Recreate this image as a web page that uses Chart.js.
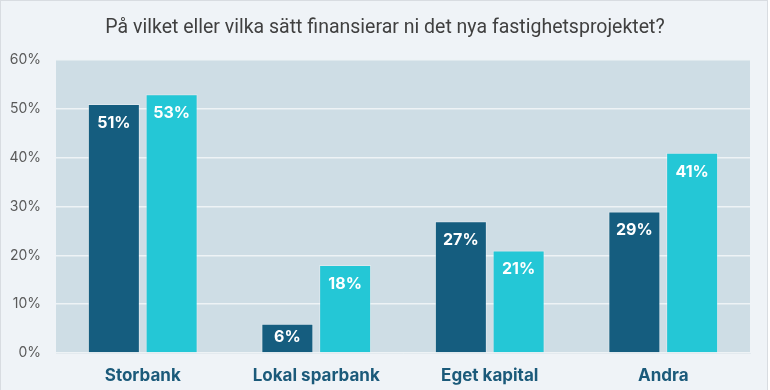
<!DOCTYPE html>
<html lang="sv">
<head>
<meta charset="utf-8">
<script src="https://cdn.jsdelivr.net/npm/chart.js@4.4.1/dist/chart.umd.min.js"></script>
<style>
  html, body { margin: 0; padding: 0; background: #ffffff; }
  #ram {
    position: relative;
    width: 766px;
    height: 392px;
    background: #eff3f7;
    border: 1px solid #d8dce1;
    overflow: hidden;
  }
  #graf { position: absolute; left: -1px; top: -1px; }
</style>
</head>
<body>
<div id="ram"><canvas id="graf" width="770" height="390"></canvas></div>
<script>
const titel = 'På vilket eller vilka sätt finansierar ni det nya fastighetsprojektet?';
const kategorier = ['Storbank', 'Lokal sparbank', 'Eget kapital', 'Andra'];
const serie1 = [51, 6, 27, 29];
const serie2 = [53, 18, 21, 41];
const yTicks = [0, 10, 20, 30, 40, 50, 60];

// bakgrund för ritytan
const ytaBakgrund = {
  id: 'ytaBakgrund',
  beforeDraw(chart) {
    const { ctx, chartArea: a } = chart;
    ctx.save();
    ctx.fillStyle = '#cedde5';
    ctx.fillRect(a.left, a.top, a.right - a.left, a.bottom - a.top);
    ctx.restore();
  }
};

// rubrik centrerad över hela bilden
const rubrik = {
  id: 'rubrik',
  afterDraw(chart) {
    const ctx = chart.ctx;
    ctx.save();
    ctx.font = '19.5px Roboto, sans-serif';
    ctx.fillStyle = '#404040';
    ctx.textAlign = 'center';
    ctx.textBaseline = 'middle';
    ctx.fillText(titel, chart.width / 2, 28);
    ctx.restore();
  }
};

// procentetiketter inne i staplarna
const etiketter = {
  id: 'etiketter',
  afterDatasetsDraw(chart) {
    const ctx = chart.ctx;
    ctx.save();
    ctx.font = 'bold 16px Inter, "Open Sans", sans-serif';
    ctx.fillStyle = '#ffffff';
    ctx.textAlign = 'center';
    ctx.textBaseline = 'middle';
    chart.data.datasets.forEach((ds, i) => {
      chart.getDatasetMeta(i).data.forEach((bar, j) => {
        const y = Math.min(bar.y + 19, (bar.y + bar.base) / 2 - 1);
        ctx.fillText(ds.data[j] + '%', bar.x, y);
      });
    });
    ctx.restore();
  }
};

new Chart(document.getElementById('graf'), {
  type: 'bar',
  data: {
    labels: kategorier,
    datasets: [
      {
        label: 'Serie 1',
        data: serie1,
        backgroundColor: '#155d7f',
        borderColor: 'rgba(255,255,255,0.3)',
        borderWidth: 1,
        borderSkipped: 'bottom'
      },
      {
        label: 'Serie 2',
        data: serie2,
        backgroundColor: '#24c7d6',
        borderColor: 'rgba(255,255,255,0.3)',
        borderWidth: 1,
        borderSkipped: 'bottom'
      }
    ]
  },
  options: {
    responsive: false,
    animation: false,
    categoryPercentage: 0.666,
    barPercentage: 0.9,
    layout: { padding: { left: 0, right: 20, top: 60, bottom: 0 } },
    plugins: {
      legend: { display: false },
      tooltip: { enabled: false },
      title: { display: false }
    },
    scales: {
      x: {
        grid: { display: false, drawTicks: false },
        border: { display: true, color: '#e3eaef', width: 1 },
        ticks: {
          color: '#1b5a7a',
          padding: 13,
          font: { family: 'Inter, "Open Sans", sans-serif', size: 17, weight: 'bold' }
        },
        afterFit(scale) { scale.height = 37; }
      },
      y: {
        min: 0,
        max: 60,
        afterBuildTicks(scale) { scale.ticks = yTicks.map(v => ({ value: v })); },
        grid: { color: '#eef3f6', lineWidth: 1.5, drawTicks: false },
        border: { display: false },
        ticks: {
          color: '#595959',
          padding: 15,
          font: { family: 'Inter, "Open Sans", sans-serif', size: 14 },
          callback: v => v + '%'
        },
        afterFit(scale) { scale.width = 56; }
      }
    }
  },
  plugins: [ytaBakgrund, rubrik, etiketter]
});
</script>
</body>
</html>
